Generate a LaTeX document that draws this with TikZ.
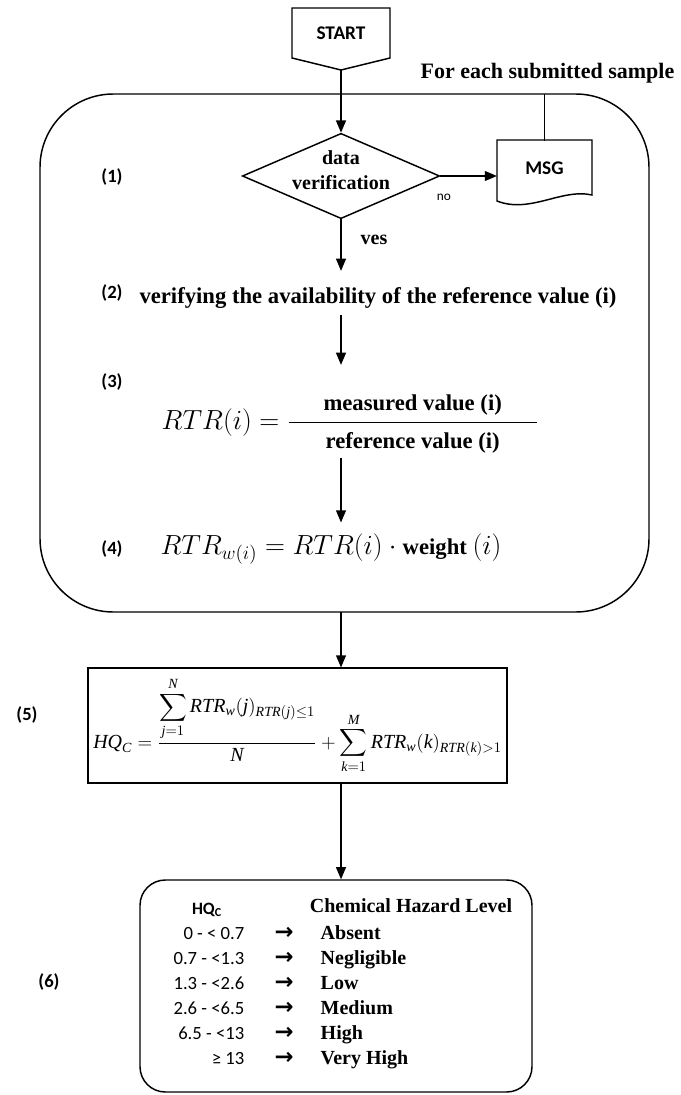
\documentclass[tikz,border=0pt]{standalone}
\usepackage{amsmath}
\usepackage{fontspec}
\setmainfont{Liberation Serif}
\newfontfamily\calfont{Carlito}
\newfontfamily\arrfont{DejaVu Sans}
\newcommand{\ti}[1]{\text{\itshape #1}}
\usetikzlibrary{
    arrows,
    shapes.geometric,
    calc,
    positioning
}

\tikzset{
    line/.style={line width=1.1pt},
    flow/.style={line, -triangle 45},
    steplbl/.style={font=\calfont\bfseries\fontsize{14}{16}\selectfont},
    sanstxt/.style={font=\calfont\bfseries\fontsize{14.5}{16}\selectfont},
    boldtxt/.style={font=\bfseries\fontsize{15}{19}\selectfont, align=center},
    bigtxt/.style={font=\bfseries\fontsize{17}{20}\selectfont},
    mathtxt/.style={font=\fontsize{20}{24}\selectfont},
    rowtxt/.style={font=\calfont\fontsize{14}{16}\selectfont},
    arrtxt/.style={font=\arrfont\bfseries\fontsize{17}{19}\selectfont}
}

\begin{document}
\begin{tikzpicture}[x=0.75pt, y=-0.75pt]
\useasboundingbox (0,0) rectangle (681,1095);

% start and the loop over samples
\node[sanstxt] (start) at (341,33) {START};
\draw[line] (292,8) -- (390,8) -- (390,58) -- (341,70) -- (292,58) -- cycle;
\coordinate (startpt) at (341,70);
\draw[line, rounded corners=55pt] (40,94) rectangle (649,612);
\coordinate (looptop) at (543,94);
\coordinate (loopbot) at (341,612);
\node[font=\bfseries\fontsize{16.5}{18}\selectfont, anchor=east] (each) at (679,73) {For each submitted sample};

% (1)
\node[steplbl] (l1) at (112,177) {(1)};
\node[draw, line, diamond, aspect=2.3, inner sep=0pt, minimum width=148pt, minimum height=64pt] (dv) at (341,176) {};
\node[boldtxt] (dvtxt) at (341,170) {data\\verification};
\node[sanstxt, minimum width=71pt, minimum height=40pt] (msg) at (544.5,168) {MSG};
\draw[line] (497,140) -- (592,140) -- (592,195) .. controls (562,188) and (530,214) .. (497,201) -- cycle;
\draw[flow] (startpt) -- (dv.north);
\draw[flow] (dv.east) -- (dv.east -| msg.west);
\draw[line] (msg.north) -- (msg.north |- looptop);
\node[font=\calfont\fontsize{10}{12}\selectfont] (no) at (444,197) {no};
\node[boldtxt] (yes) at (374,240) {ves};

% (2)
\node[steplbl] (l2) at (112,293) {(2)};
\node[bigtxt] (s2) at (378,298) {verifying the availability of the reference value (i)};
\draw[flow, shorten >=9pt] (dv.south) -- (dv.south |- s2.north);

% (3)
\node[steplbl] (l3) at (112,382) {(3)};
\node[mathtxt] (s3) at (350,424) {$RTR(i) = \dfrac{\makebox[186pt]{\bfseries\fontsize{17}{20}\selectfont measured value (i)}}{\makebox[186pt]{\bfseries\fontsize{17}{20}\selectfont reference value (i)}}$};
\draw[flow, shorten <=1pt, shorten >=19pt] (s2.south -| startpt) -- (startpt |- s3.north);

% (4)
\node[steplbl] (l4) at (112,549) {(4)};
\node[mathtxt] (s4) at (331,549) {$RTR_{w(i)} = RTR(i) \cdot \text{\bfseries\fontsize{17}{20}\selectfont weight } (i)$};
\draw[flow, shorten >=5pt] (s3.south -| startpt) -- (startpt |- s4.north);

% (5)
\node[steplbl] (l5) at (27,715) {(5)};
\node[draw, line, inner sep=0pt, minimum width=314pt, minimum height=86pt, font=\fontsize{15}{18}\selectfont] (s5) at (297.5,725.5)
    {$\ti{HQ}_{\ti{C}} = \dfrac{\displaystyle\sum_{\ti{j}=1}^{\ti{N}} \ti{RTR}_{\ti{w}}(\ti{j})_{\ti{RTR}(\ti{j})\le 1}}{\ti{N}} + \displaystyle\sum_{\ti{k}=1}^{\ti{M}} \ti{RTR}_{\ti{w}}(\ti{k})_{\ti{RTR}(\ti{k})>1}$};
\draw[flow] (loopbot) -- (loopbot |- s5.north);

% (6)
\node[steplbl] (l6) at (49,982) {(6)};
\node[draw, line, rounded corners=19pt, minimum width=294pt, minimum height=159pt] (s6) at (336,986) {};
\draw[flow] (s5.south -| loopbot) -- (loopbot |- s6.north);
\node[font=\calfont\bfseries\fontsize{13}{15}\selectfont] (hq) at (207,910) {HQ\textsubscript{C}};
\node[boldtxt] (lvl) at (411,906) {Chemical Hazard Level};
\foreach \rng/\haz [count=\i from 0] in {0 - < 0.7/Absent, 0.7 - <1.3/Negligible, 1.3 - <2.6/Low, 2.6 - <6.5/Medium, 6.5 - <13/High, ≥ 13/Very High} {
    \node[rowtxt, anchor=base east] (r\i) at (249,{939+25*\i}) {\rng};
    \node[arrtxt, anchor=base] (a\i) at (284,{939+25*\i}) {→};
    \node[boldtxt, anchor=base west] (h\i) at (316,{939+25*\i}) {\haz};
}
\end{tikzpicture}
\end{document}
